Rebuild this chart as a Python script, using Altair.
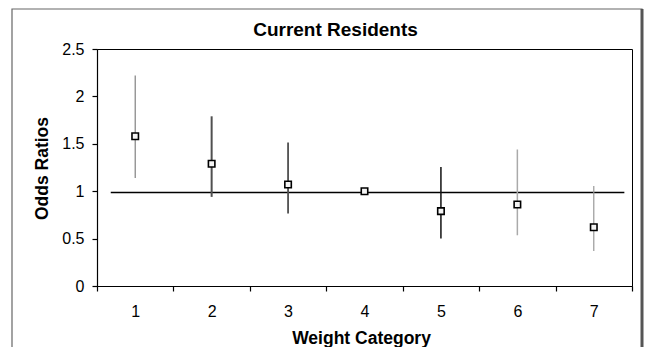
import altair as alt
import pandas as pd

# ---- data ----
categories = ["1", "2", "3", "4", "5", "6", "7"]
odds_ratio = [1.58, 1.29, 1.07, 1.00, 0.79, 0.86, 0.62]
ci_low = [1.14, 0.94, 0.765, 1.00, 0.50, 0.535, 0.37]
ci_high = [2.22, 1.79, 1.515, 1.00, 1.255, 1.44, 1.055]

ref_value = [0.985, 0.985]
ref_x = [0.68, 7.40]

# ---- styles (kept separate from the data) ----
bar_colors = ["#808080", "#505050", "#505050", "#000000", "#111111", "#aaaaaa", "#999999"]
bar_widths = [1.2, 2, 1.8, 1, 1.5, 1.5, 1.2]

df = pd.DataFrame({
    "cat": categories,
    "or": odds_ratio,
    "lo": ci_low,
    "hi": ci_high,
    "col": bar_colors,
    "sw": bar_widths,
})
ref_df = pd.DataFrame({"x": [ref_x[0]], "x2": [ref_x[1]], "y": [ref_value[0]]})

FONT = "Liberation Sans"
W, H = 535, 237

x_enc = alt.X(
    "cat:O",
    sort=categories,
    scale=alt.Scale(paddingInner=0, paddingOuter=0),
    axis=alt.Axis(
        title="Weight Category",
        labelAngle=0,
        tickBand="extent",
        tickSize=5,
        labelPadding=12,
        labelFontSize=16,
        titleFontSize=17.5,
        titleFontWeight="bold",
        titleX=264,
        titleY=52,
        titleBaseline="middle",
        titleAlign="center",
    ),
)
y_scale = alt.Scale(domain=[0, 2.5], nice=False)
y_axis = alt.Axis(
    title="Odds Ratios",
    values=[0, 0.5, 1, 1.5, 2, 2.5],
    format="~g",
    grid=False,
    tickSize=5,
    labelPadding=8,
    labelFontSize=16,
    titleFontSize=17.5,
    titleFontWeight="bold",
    titleX=-55,
    titleY=119,
    titleAngle=-90,
    titleBaseline="middle",
    titleAlign="center",
)

bars = alt.Chart(df).mark_rule().encode(
    x=x_enc,
    y=alt.Y("lo:Q", scale=y_scale, axis=y_axis),
    y2="hi:Q",
    color=alt.Color("col:N", scale=None),
    strokeWidth=alt.StrokeWidth("sw:Q", scale=None),
)

points = alt.Chart(df).mark_point(
    shape="square", filled=False, fill="#f4f4f4", fillOpacity=1,
    stroke="black", strokeWidth=1.6, size=42, opacity=1,
).encode(
    x=alt.X("cat:O", sort=categories),
    y=alt.Y("or:Q", scale=y_scale),
)

main = alt.layer(bars, points)

ref_line = alt.Chart(ref_df).mark_rule(color="black", strokeWidth=1.5).encode(
    x=alt.X("x:Q", scale=alt.Scale(domain=[0.5, 7.5], nice=False, zero=False), axis=None),
    x2="x2:Q",
    y=alt.Y("y:Q", scale=y_scale),
)

frame = alt.Chart(alt.Data(values=[{"a": 1}])).mark_rect(
    fill=None, stroke="#666666", strokeWidth=1.2,
).encode(
    x=alt.value(-85), x2=alt.value(545), y=alt.value(-40), y2=alt.value(330),
)
frame_right = alt.Chart(alt.Data(values=[{"a": 1}])).mark_rule(
    color="#555555", strokeWidth=3,
).encode(
    x=alt.value(545), y=alt.value(-40), y2=alt.value(330),
)

chart = alt.layer(ref_line, main, frame, frame_right).resolve_scale(
    x="independent"
).properties(
    width=W,
    height=H,
    autosize=alt.AutoSizeParams(type="none"),
    padding={"left": 89, "top": 41, "right": 12, "bottom": 61},
    title=alt.TitleParams(
        "Current Residents",
        fontSize=19,
        fontWeight="bold",
        font=FONT,
        color="black",
        anchor="middle",
        frame="group",
        dx=-29,
        dy=42,
        offset=10,
    ),
).configure(
    font=FONT,
).configure_view(
    stroke="black", strokeWidth=1,
).configure_axis(
    domainColor="black",
    tickColor="black",
    labelColor="black",
    titleColor="black",
    labelFont=FONT,
    titleFont=FONT,
    domainWidth=1.2,
    tickWidth=1.2,
)

chart.save("out.html", embed_options={"renderer": "svg", "actions": False})
